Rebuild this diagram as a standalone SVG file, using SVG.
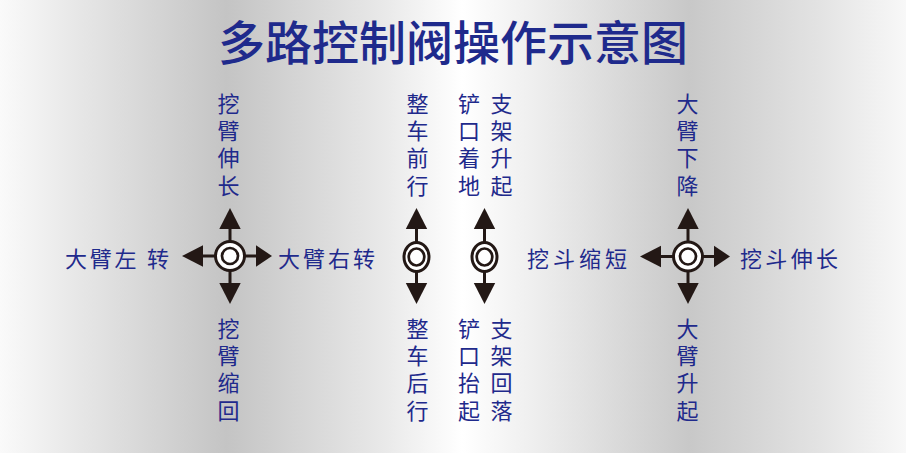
<svg xmlns="http://www.w3.org/2000/svg" width="906" height="453" viewBox="0 0 906 453">
  <defs>
    <linearGradient id="bg" x1="0" y1="0" x2="1" y2="0">
      <stop offset="0" stop-color="#fafafa"/>
      <stop offset="0.09" stop-color="#e6e6e6"/>
      <stop offset="0.25" stop-color="#c4c4c4"/>
      <stop offset="0.42" stop-color="#e8e8e8"/>
      <stop offset="0.51" stop-color="#ffffff"/>
      <stop offset="0.6" stop-color="#ececec"/>
      <stop offset="0.76" stop-color="#c8c8c8"/>
      <stop offset="0.9" stop-color="#e2e2e2"/>
      <stop offset="1" stop-color="#f8f8f8"/>
    </linearGradient>
    <path id="ah" d="M0,0 L-10.7,21 L10.7,21 Z"/>
    <path id="ahs" d="M0,0 L-10.7,16 L10.7,16 Z"/>
  </defs>
  <style>
    .title { font-family: "Noto Sans CJK SC", "Noto Sans", sans-serif; font-size: 47px; font-weight: 500; fill: #1f2a8c; }
    .lbl { font-family: "Noto Sans CJK SC", "Noto Sans", sans-serif; font-size: 22px; fill: #1f2a8c; }
    .v { writing-mode: vertical-rl; letter-spacing: 5.3px; }
    .head { fill: #231815; }
    .stem { stroke: #231815; stroke-width: 3; fill: none; }
    .outer { fill: #ffffff; stroke: #231815; stroke-width: 3; }
    .inner { fill: #ffffff; stroke: #231815; stroke-width: 2.7; }
  </style>
  <rect x="0" y="0" width="906" height="453" fill="url(#bg)"/>
  <text class="title" x="218" y="39" dominant-baseline="central" textLength="470" lengthAdjust="spacing">多路控制阀操作示意图</text>

  <g id="connectors">
    <line class="stem" x1="230" y1="227" x2="230" y2="285"/>
    <line class="stem" x1="200" y1="256" x2="258" y2="256"/>
    <use href="#ah" class="head" transform="translate(230,208)"/>
    <use href="#ah" class="head" transform="translate(230,304) rotate(180)"/>
    <use href="#ah" class="head" transform="translate(182,256) rotate(-90)"/>
    <use href="#ahs" class="head" transform="translate(272,256) rotate(90)"/>
    <line class="stem" x1="416.5" y1="227" x2="416.5" y2="285"/>
    <use href="#ah" class="head" transform="translate(416.5,208)"/>
    <use href="#ah" class="head" transform="translate(416.5,304) rotate(180)"/>
    <line class="stem" x1="484.5" y1="227" x2="484.5" y2="285"/>
    <use href="#ah" class="head" transform="translate(484.5,208)"/>
    <use href="#ah" class="head" transform="translate(484.5,304) rotate(180)"/>
    <line class="stem" x1="688" y1="227" x2="688" y2="285"/>
    <line class="stem" x1="658" y1="256.5" x2="716" y2="256.5"/>
    <use href="#ah" class="head" transform="translate(688,208)"/>
    <use href="#ah" class="head" transform="translate(688,304) rotate(180)"/>
    <use href="#ah" class="head" transform="translate(640,256.5) rotate(-90)"/>
    <use href="#ahs" class="head" transform="translate(730,256.5) rotate(90)"/>
  </g>

  <g id="knob-boom-arm">
    <circle class="outer" cx="230" cy="256" r="14.5"/>
    <circle class="inner" cx="230" cy="256" r="8"/>
  </g>
  <g id="knob-travel">
    <ellipse class="outer" cx="416.5" cy="257" rx="12.5" ry="14.5"/>
    <ellipse class="inner" cx="416.5" cy="257" rx="7.8" ry="8.5"/>
  </g>
  <g id="knob-blade">
    <ellipse class="outer" cx="484.5" cy="257" rx="12.5" ry="14.5"/>
    <ellipse class="inner" cx="484.5" cy="257" rx="7.8" ry="8.5"/>
  </g>
  <g id="knob-bucket-boom">
    <circle class="outer" cx="688" cy="256.5" r="14.5"/>
    <circle class="inner" cx="688" cy="256.5" r="8"/>
  </g>

  <g id="labels">
    <text class="lbl" x="65" y="257" dominant-baseline="central" textLength="104" lengthAdjust="spacing">大臂左 转</text>
    <text class="lbl" x="278" y="257" dominant-baseline="central" textLength="97" lengthAdjust="spacing">大臂右转</text>
    <text class="lbl" x="527" y="257" dominant-baseline="central" textLength="100" lengthAdjust="spacing">挖斗缩短</text>
    <text class="lbl" x="740" y="257" dominant-baseline="central" textLength="98" lengthAdjust="spacing">挖斗伸长</text>

    <text class="lbl v" x="228.5" y="92.5">挖臂伸长</text>
    <text class="lbl v" x="228.5" y="317.5">挖臂缩回</text>
    <text class="lbl v" x="417.5" y="92.5">整车前行</text>
    <text class="lbl v" x="417.5" y="317.5">整车后行</text>
    <text class="lbl v" x="469" y="92.5">铲口着地</text>
    <text class="lbl v" x="469" y="317.5">铲口抬起</text>
    <text class="lbl v" x="501.5" y="92.5">支架升起</text>
    <text class="lbl v" x="501.5" y="317.5">支架回落</text>
    <text class="lbl v" x="687.5" y="92.5">大臂下降</text>
    <text class="lbl v" x="687.5" y="317.5">大臂升起</text>
  </g>
</svg>
